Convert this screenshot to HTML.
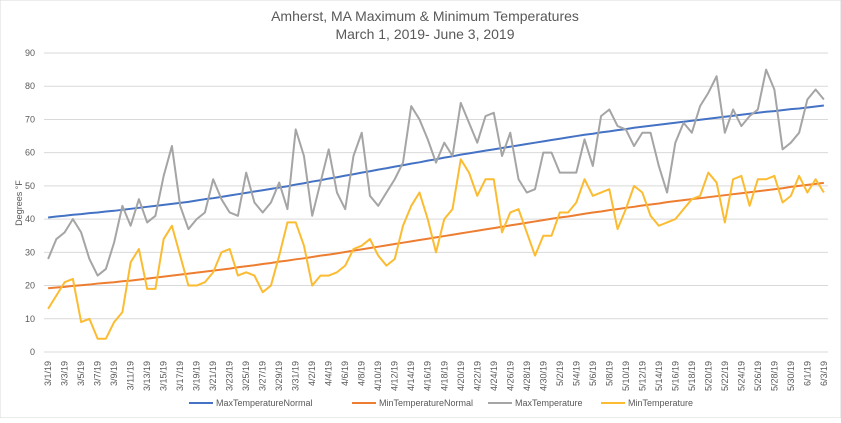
<!DOCTYPE html>
<html><head><meta charset="utf-8"><style>
body{margin:0;background:#fff;font-family:"Liberation Sans",sans-serif}
svg text{font-family:"Liberation Sans",sans-serif}
</style></head><body>
<svg id="c" width="841" height="418" xmlns="http://www.w3.org/2000/svg">
<rect width="841" height="418" fill="#fff" stroke="#d9d9d9"/>
<text x="425" y="21" text-anchor="middle" font-size="14" fill="#595959">Amherst, MA Maximum &amp; Minimum Temperatures</text>
<text x="425" y="39" text-anchor="middle" font-size="14" fill="#595959">March 1, 2019- June 3, 2019</text>
<text transform="translate(22,203) rotate(-90)" text-anchor="middle" font-size="9" fill="#595959">Degrees °F</text>
<g id="grid"></g><g id="series"></g><g id="xl"></g>
<g id="legend"></g>
</svg>
<script>
const maxTemp=[28,34,36,40,36,28,23,25,33,44,38,46,39,41,53,62,44,37,40,42,52,46,42,41,54,45,42,45,51,43,67,
59,41,51,61,48,43,59,66,47,44,48,52,57,74,70,64,57,63,59,75,69,63,71,72,59,66,52,48,49,60,
60,54,54,54,64,56,71,73,68,67,62,66,66,56,48,63,69,66,74,78,83,66,73,68,71,73,85,79,61,63,66,
76,79,76];
const minTemp=[13,17,21,22,9,10,4,4,9,12,27,31,19,19,34,38,29,20,20,21,24,30,31,23,24,23,18,20,29,39,39,
32,20,23,23,24,26,31,32,34,29,26,28,38,44,48,40,30,40,43,58,54,47,52,52,36,42,43,36,29,35,
35,42,42,45,52,47,48,49,37,43,50,48,41,38,39,40,43,46,47,54,51,39,52,53,44,52,52,53,45,47,53,
48,52,48];
const maxNormal=[40.5,40.8,41.0,41.3,41.5,41.8,42.0,42.3,42.5,42.8,43.1,43.4,43.7,44.0,44.3,44.6,44.9,45.2,45.6,46.0,
46.3,46.7,47.1,47.5,47.9,48.3,48.7,49.1,49.5,49.9,50.4,50.8,51.3,51.7,52.2,52.6,53.1,53.5,54.0,54.4,
54.9,55.3,55.8,56.2,56.7,57.1,57.6,58.0,58.5,58.9,59.4,59.8,60.2,60.6,61.0,61.4,61.8,62.2,62.6,63.0,
63.4,63.8,64.2,64.6,65.0,65.4,65.7,66.1,66.4,66.8,67.1,67.5,67.8,68.1,68.4,68.7,69.0,69.3,69.6,69.9,
70.2,70.5,70.8,71.1,71.4,71.7,72.0,72.3,72.5,72.8,73.1,73.3,73.6,73.9,74.2];
const minNormal=[19.2,19.4,19.6,19.9,20.1,20.3,20.6,20.8,21.0,21.3,21.5,21.8,22.1,22.4,22.7,23.0,23.3,23.6,23.9,24.2,
24.5,24.8,25.1,25.5,25.8,26.1,26.5,26.8,27.2,27.5,27.9,28.2,28.6,29.0,29.3,29.7,30.1,30.5,30.9,31.3,
31.7,32.1,32.5,32.9,33.3,33.7,34.1,34.5,34.9,35.3,35.7,36.1,36.5,36.9,37.3,37.7,38.1,38.5,38.9,39.3,
39.7,40.1,40.5,40.8,41.2,41.6,42.0,42.3,42.7,43.0,43.4,43.7,44.1,44.4,44.7,45.1,45.4,45.7,46.0,46.3,
46.6,46.9,47.2,47.5,47.8,48.1,48.4,48.7,49.0,49.3,49.7,50.0,50.3,50.6,50.9];
const yTicks=[0,10,20,30,40,50,60,70,80,90];
const seriesNames=["MaxTemperatureNormal","MinTemperatureNormal","MaxTemperature","MinTemperature"];
const seriesColors=["#4472c4","#ed7d31","#a5a5a5","#fbbc32"];
const categories=[];
for(let i=0;i<maxTemp.length;i++){const d=new Date(2019,2,1+i);categories.push((d.getMonth()+1)+"/"+d.getDate()+"/19");}

const NS="http://www.w3.org/2000/svg";
const L=44,R=828,T=53,B=352;
const n=categories.length, step=(R-L)/n;
const x=i=>L+step*(i+0.5);
const y=v=>B-(v/90)*(B-T);
function mk(t,a,p){const e=document.createElementNS(NS,t);for(const k in a)e.setAttribute(k,a[k]);p.appendChild(e);return e;}
const grid=document.getElementById('grid');
yTicks.forEach(v=>{
  const ln=mk('line',{x1:L,x2:R,y1:y(v),y2:y(v),stroke:'#d9d9d9','stroke-width':1},grid);
  
  
  const t=mk('text',{x:35,y:y(v)+3,'text-anchor':'end','font-size':9,fill:'#595959'},grid);
  t.textContent=v;
  
  
});
const xl=document.getElementById('xl');
categories.forEach((c,i)=>{
  if(i%2)return;
  const t=mk('text',{transform:`translate(${x(i)+3},361) rotate(-90)`,'text-anchor':'end','font-size':9,fill:'#595959'},xl);
  t.textContent=c;
  
  
});
const sg=document.getElementById('series');
[maxNormal,minNormal,maxTemp,minTemp].forEach((arr,k)=>{
  const p=mk('polyline',{points:arr.map((v,i)=>x(i)+","+y(v)).join(" "),fill:'none',stroke:seriesColors[k],'stroke-width':2,'stroke-linejoin':'round'},sg);
  
  
});
const lg=document.getElementById('legend');
const lx=[189,352,488,601];
seriesNames.forEach((s,k)=>{
  const g=mk('g',{},lg);
  
  
  mk('line',{x1:lx[k],x2:lx[k]+24,y1:403,y2:403,stroke:seriesColors[k],'stroke-width':2},g);
  const t=mk('text',{x:lx[k]+27,y:406,'font-size':9,fill:'#595959'},g);
  t.textContent=s;
});
</script>
</body></html>
